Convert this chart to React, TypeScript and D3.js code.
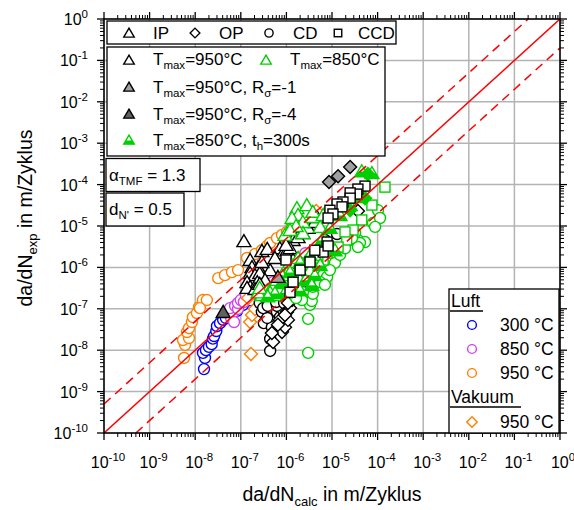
import React from "react";
import * as d3 from "d3";

type P = [number, number];

// ---------- data (da/dN_calc, da/dN_exp) in m/Zyklus ----------
const luft300Circles: P[] = [
  [1.56e-8, 3.5e-9], [1.64e-8, 6.5e-9], [1.48e-8, 8.6e-9], [1.72e-8, 1.0e-8], [2.0e-8, 1.2e-8],
  [2.3e-8, 1.4e-8], [2.45e-8, 1.9e-8], [2.6e-8, 2.2e-8], [2.9e-8, 2.9e-8], [3.0e-8, 3.8e-8],
  [3.5e-8, 4.5e-8], [4.1e-8, 5.4e-8], [4.7e-8, 6.0e-8], [6.1e-8, 7.5e-8], [8.3e-8, 8.9e-8],
  [1.12e-7, 1.24e-7], [1.6e-7, 1.6e-7], [2.6e-7, 2.3e-7],
];
const luft850Circles: P[] = [
  [6.1e-8, 6.0e-8], [6.7e-8, 7.9e-8], [7.1e-8, 4.8e-8], [5.8e-8, 1.04e-7], [7.5e-8, 1.17e-7],
  [8.7e-8, 9.9e-8], [8.7e-8, 1.38e-7], [1.0e-7, 1.63e-7], [1.17e-7, 1.46e-7], [1.3e-7, 2.15e-7],
  [1.67e-7, 2.4e-7], [5.1e-7, 4.4e-7], [2.6e-6, 2.2e-6],
];
const luft950Circles: P[] = [
  [5.7e-9, 6.5e-9], [6.0e-9, 1.34e-8], [5.4e-9, 1.76e-8], [7.3e-9, 1.97e-8], [6.6e-9, 2.75e-8],
  [7.3e-9, 3.4e-8], [8.5e-9, 4.8e-8], [8.9e-9, 6.3e-8], [1.09e-8, 7.9e-8], [1.21e-8, 1.1e-7],
  [1.48e-8, 1.63e-7], [1.8e-8, 1.63e-7], [1.27e-8, 1.04e-7], [3.2e-8, 5.5e-7], [4.5e-8, 6.5e-7],
  [6.4e-8, 7.7e-7], [8.7e-8, 8.6e-7], [1.37e-7, 1.69e-6], [2.05e-7, 2.1e-6], [2.9e-7, 2.6e-6],
  [3.8e-7, 3.3e-6], [4.4e-7, 3.9e-6], [6.2e-7, 5.1e-6], [8.0e-7, 6.1e-6], [1.03e-6, 7.2e-6],
  [1.33e-6, 1.12e-5], [1.7e-6, 1.65e-5],
];
const vakuum950Diamonds: P[] = [
  [1.67e-7, 8.1e-9], [1.6e-7, 4.8e-8], [1.76e-7, 7.1e-8], [2.05e-7, 9.9e-8], [1.44e-7, 1.82e-7],
  [2.3e-6, 1.06e-5], [4.5e-6, 2.3e-5], [1.2e-6, 7.2e-6],
];
const cdBlackCircles: P[] = [
  [4.4e-7, 9.6e-9], [4.4e-7, 1.87e-8], [3.2e-7, 4.5e-8], [2.9e-7, 8.4e-8], [2.6e-7, 1.38e-7],
  [3.8e-7, 1.38e-7], [4.8e-7, 1.04e-7], [6.2e-7, 8.4e-8], [6.5e-7, 1.93e-7], [8.0e-7, 2.4e-7],
  [5.6e-7, 4.8e-8], [4.8e-7, 3.6e-8], [3.8e-7, 6.0e-8], [7.2e-7, 6.3e-8], [8.4e-7, 9.3e-8],
  [3.1e-7, 1.04e-7], [3.9e-7, 1.17e-7], [6.2e-7, 1.17e-7], [7.2e-7, 1.82e-7], [5.9e-7, 1.46e-7],
  [8.9e-7, 1.38e-7], [1.2e-6, 1.63e-7], [1.63e-6, 2.0e-7], [3.3e-6, 1.28e-6], [7.0e-6, 4.6e-6],
  [1.29e-5, 6.4e-6], [1.2e-6, 7.7e-7], [2.0e-6, 3.8e-7],
];
const opBlackDiamonds: P[] = [
  [8.0e-7, 2.75e-8], [9.3e-7, 3.6e-8], [1.08e-6, 5.4e-8], [1.03e-6, 8.4e-8], [1.2e-6, 1.04e-7],
  [1.33e-6, 1.63e-7], [1.08e-6, 1.38e-7], [5.1e-7, 1.58e-8], [4.8e-7, 2.6e-8], [7.2e-7, 5.4e-8],
  [9.3e-7, 7.1e-8], [3.7e-5, 2.3e-5], [2.0e-6, 2.8e-7], [1.63e-6, 5.0e-7], [6.5e-7, 4.1e-8],
];
const ccdBlackSquares: P[] = [
  [5.3e-5, 9.2e-5], [3.7e-5, 7.8e-5], [3.5e-5, 5.9e-5], [2.5e-5, 6.3e-5], [2.5e-5, 4.7e-5],
  [1.74e-5, 3.8e-5], [1.29e-5, 3.4e-5], [1.66e-5, 2.9e-5], [9.0e-6, 2.4e-5], [1.05e-5, 1.95e-5],
  [8.2e-6, 1.56e-5], [7.8e-6, 4.1e-6], [6.4e-6, 2.35e-6], [8.2e-6, 3.3e-6], [1.4e-6, 4.4e-7],
  [1.2e-6, 2.5e-7], [9.8e-7, 1.51e-6], [2.0e-6, 8.6e-7], [3.3e-6, 1.35e-6], [4.2e-6, 2.6e-6],
];
const ipBlackTriangles: P[] = [
  [1.17e-7, 4.3e-6], [2.9e-7, 2.5e-6], [3.8e-7, 2.8e-6], [1.6e-7, 1.51e-6], [1.76e-7, 1.02e-6],
  [2.4e-7, 1.02e-6], [4.4e-7, 8.6e-7], [1.6e-7, 7.3e-7], [2.05e-7, 6.5e-7], [2.6e-7, 7.3e-7],
  [1.37e-7, 4.4e-7], [1.6e-7, 3.4e-7], [2.3e-7, 4.4e-7], [1.37e-7, 3.2e-7], [2.05e-7, 3.0e-7],
  [7.2e-7, 2.9e-6], [8.4e-7, 2.2e-6], [1.03e-6, 2.6e-6], [1.4e-6, 4.6e-6], [1.8e-6, 5.4e-6],
  [2.3e-6, 6.8e-6], [3.0e-6, 9.0e-6], [1.2e-6, 2.9e-6], [1.4e-6, 1.51e-6], [3.4e-7, 5.0e-7],
  [2.6e-7, 4.0e-7], [4.2e-6, 1.25e-5], [4.7e-6, 1.65e-5], [2.9e-7, 1.35e-6], [5.6e-7, 1.69e-6],
  [9.8e-7, 3.5e-6],
];
const rsm1GrayTriangles: P[] = [[6.5e-7, 5.9e-7]];
const rsm4DarkTriangles: P[] = [[4.1e-8, 8.4e-8]];
const rsm1GrayDiamonds: P[] = [[2.5e-5, 2.66e-4], [1.36e-5, 1.6e-4], [8.6e-6, 1.16e-4]];
const t850GreenCircles: P[] = [
  [3.0e-6, 8.6e-9], [3.0e-6, 5.7e-8], [3.3e-6, 1.24e-7], [3.6e-6, 1.54e-7], [3.6e-6, 2.8e-7],
  [3.8e-6, 2.3e-7], [2.3e-6, 2.5e-7], [2.2e-6, 1.63e-7], [6.4e-6, 6.5e-7], [1.16e-5, 1.28e-6],
  [7.8e-6, 5.9e-7], [2.5e-5, 4.6e-6], [3.7e-5, 4.6e-6], [5.3e-5, 4.1e-6], [3.2e-5, 6.8e-6],
  [7.9e-5, 1.18e-5], [1.02e-4, 2.4e-5], [1.13e-4, 1.56e-5], [8.8e-5, 9.5e-6], [4.1e-5, 3.9e-6],
  [3.7e-5, 3.1e-6], [2.75e-5, 5.1e-6], [3.8e-6, 3.4e-7], [1.5e-5, 2.0e-6], [1.93e-5, 2.9e-6],
  [5.5e-6, 4.4e-7], [9.0e-6, 8.6e-7], [1.63e-6, 1.82e-7], [7.0e-6, 3.8e-7],
];
const t850GreenSquares: P[] = [
  [1.45e-4, 8.7e-5], [7.5e-5, 3.2e-5], [4.5e-5, 1.4e-5], [2.9e-5, 8.0e-6], [2.1e-5, 4.6e-6],
  [1.36e-5, 3.1e-6], [7.8e-6, 2.2e-6], [3.6e-6, 1.14e-6], [3.3e-6, 8.6e-7], [6.4e-6, 1.51e-6],
  [2.0e-6, 6.5e-7], [1.55e-6, 4.4e-7], [4.9e-6, 1.69e-6], [1.93e-5, 7.2e-6], [2.6e-6, 7.7e-7],
];
const t850GreenTriangles: P[] = [
  [1.7e-6, 2.7e-5], [2.8e-6, 3.2e-5], [1.4e-6, 1.25e-5], [1.8e-6, 1.85e-5], [2.3e-6, 1.25e-5],
  [3.8e-6, 1.65e-5], [5.5e-6, 9.5e-6], [2.3e-6, 6.8e-6], [1.33e-6, 1.56e-5], [3.8e-6, 2.2e-5],
  [6.4e-6, 1.85e-5], [1.63e-6, 1.0e-5], [9.3e-7, 6.1e-6], [1.2e-6, 8.0e-6], [3.8e-7, 2.8e-7],
  [5.1e-7, 3.8e-7], [6.2e-7, 5.0e-7], [1.03e-6, 7.3e-7], [2.9e-7, 2.15e-7], [4.4e-7, 2.5e-7],
  [7.2e-7, 2.8e-7], [9.3e-7, 4.2e-7], [1.55e-6, 6.5e-7], [2.0e-6, 9.7e-7], [2.6e-6, 1.35e-6],
  [3.3e-6, 8.6e-7], [8.0e-7, 6.5e-7], [1.2e-6, 1.35e-6], [1.8e-6, 1.69e-6], [5.5e-6, 3.5e-6],
  [5.6e-7, 2.15e-7], [2.4e-7, 2.5e-7], [2.0e-6, 5.0e-7], [4.2e-6, 2.0e-6], [7.0e-6, 4.6e-6],
  [2.6e-7, 3.2e-7],
];
const t850th300Triangles: P[] = [
  [4.5e-5, 2.1e-4], [7.5e-5, 1.9e-4], [3.7e-5, 5.0e-5], [2.5e-5, 3.2e-5], [1.5e-5, 1.85e-5],
  [9.0e-6, 9.0e-6], [6.0e-6, 4.6e-6], [3.3e-6, 2.0e-6], [2.0e-6, 1.35e-6], [1.2e-6, 7.7e-7],
  [8.0e-7, 4.4e-7], [1.55e-6, 3.8e-7], [2.6e-6, 5.0e-7], [4.2e-6, 6.5e-7], [2.0e-6, 2.8e-7],
  [9.3e-7, 2.5e-7], [5.6e-7, 2.4e-7], [3.9e-7, 2.0e-7], [5.5e-6, 1.14e-6], [1.16e-5, 2.6e-6],
  [3.6e-6, 3.8e-7],
];
const t850th300Diamonds: P[] = [[6.1e-5, 1.8e-4], [5.3e-5, 4.7e-5], [2.5e-5, 2.4e-5]];

const decadeExponents = [-10, -9, -8, -7, -6, -5, -4, -3, -2, -1, 0];
const minorMultipliers = [2, 3, 4, 5, 6, 7, 8, 9];
const bandFactor = 5;

// ---------- layout ----------
const W = 574, H = 510;
const X0 = 104, X1 = 560, Y0 = 433, Y1 = 19;
const FONT = "'Liberation Sans', Arial, Helvetica, sans-serif";

const GREEN = "#00d000";
const ORANGE = "#ff8000";
const BLUE = "#0000ff";
const VIOLET = "#cc44ee";
const RED = "#ff0000";

type Shape = "circle" | "triangle" | "square" | "diamond" | "triHalf";

function Marker({ shape, cx, cy, stroke, fill = "#fff", s = 1 }: { shape: Shape; cx: number; cy: number; stroke: string; fill?: string; s?: number }) {
  const sw = 1.4;
  if (shape === "circle") return <circle cx={cx} cy={cy} r={5.5 * s} fill={fill} stroke={stroke} strokeWidth={sw} />;
  if (shape === "square") {
    const h = 5 * s;
    return <rect x={cx - h} y={cy - h} width={2 * h} height={2 * h} fill={fill} stroke={stroke} strokeWidth={sw} />;
  }
  if (shape === "diamond") {
    const h = 6.5 * s;
    return <polygon points={`${cx},${cy - h} ${cx + h},${cy} ${cx},${cy + h} ${cx - h},${cy}`} fill={fill} stroke={stroke} strokeWidth={sw} />;
  }
  const hw = 7 * s, top = -6.5 * s, bot = 5.5 * s;
  const pts = `${cx},${cy + top} ${cx + hw},${cy + bot} ${cx - hw},${cy + bot}`;
  if (shape === "triHalf") {
    const yb = 0.5 * s;
    const w = hw * (yb - top) / (bot - top);
    return (
      <g>
        <polygon points={pts} fill="#fff" stroke="none" />
        <polygon points={`${cx - w},${cy + yb} ${cx + w},${cy + yb} ${cx + hw},${cy + bot} ${cx - hw},${cy + bot}`} fill={stroke} />
        <polygon points={pts} fill="none" stroke={stroke} strokeWidth={sw} />
      </g>
    );
  }
  return <polygon points={pts} fill={fill} stroke={stroke} strokeWidth={sw} />;
}

// text with subscripts: parts alternate normal / subscript
function RichText({ x, y, parts, fs = 17, subFs = 11.5 }: { x: number; y: number; parts: string[]; fs?: number; subFs?: number }) {
  return (
    <text x={x} y={y} fontSize={fs}>
      {parts.map((p, i) => {
        const isSub = i % 2 === 1;
        const prevSub = i > 0 && (i - 1) % 2 === 1;
        const dy = isSub ? 4 : prevSub ? -4 : 0;
        return (
          <tspan key={i} dy={dy} fontSize={isSub ? subFs : fs}>{p}</tspan>
        );
      })}
    </text>
  );
}

export default function App() {
  const x = d3.scaleLog().domain([1e-10, 1]).range([X0, X1]);
  const y = d3.scaleLog().domain([1e-10, 1]).range([Y0, Y1]);

  const majors = decadeExponents.map((e) => Math.pow(10, e));
  const minors: number[] = [];
  decadeExponents.slice(0, -1).forEach((e) => minorMultipliers.forEach((m) => minors.push(m * Math.pow(10, e))));

  const series: { data: P[]; shape: Shape; stroke: string; fill?: string }[] = [
    { data: luft950Circles, shape: "circle", stroke: ORANGE },
    { data: luft300Circles, shape: "circle", stroke: BLUE },
    { data: luft850Circles, shape: "circle", stroke: VIOLET },
    { data: vakuum950Diamonds, shape: "diamond", stroke: ORANGE },
    { data: cdBlackCircles, shape: "circle", stroke: "#000" },
    { data: opBlackDiamonds, shape: "diamond", stroke: "#000" },
    { data: ipBlackTriangles, shape: "triangle", stroke: "#000" },
    { data: t850GreenCircles, shape: "circle", stroke: GREEN },
    { data: t850GreenSquares, shape: "square", stroke: GREEN },
    { data: t850GreenTriangles, shape: "triangle", stroke: GREEN },
    { data: t850th300Triangles, shape: "triHalf", stroke: GREEN },
    { data: t850th300Diamonds, shape: "diamond", stroke: GREEN, fill: GREEN },
    { data: ccdBlackSquares, shape: "square", stroke: "#000" },
    { data: rsm1GrayTriangles, shape: "triangle", stroke: "#000", fill: "#a0a0a0" },
    { data: rsm4DarkTriangles, shape: "triangle", stroke: "#000", fill: "#606060" },
    { data: rsm1GrayDiamonds, shape: "diamond", stroke: "#000", fill: "#a0a0a0" },
  ];

  const lineGen = d3.line<P>().x((d) => x(d[0])).y((d) => y(d[1]));
  const diag: P[] = [[1e-10, 1e-10], [1, 1]];
  const upper: P[] = [[1e-10, bandFactor * 1e-10], [1 / bandFactor, 1]];
  const lower: P[] = [[bandFactor * 1e-10, 1e-10], [1, 1 / bandFactor]];

  return (
    <svg width={W} height={H} style={{ position: "absolute", left: 0, top: 0, background: "#fff" }} fontFamily={FONT}>
      <defs>
        <clipPath id="plotClip">
          <rect x={X0} y={Y1} width={X1 - X0} height={Y0 - Y1} />
        </clipPath>
      </defs>
      <rect x={0} y={0} width={W} height={H} fill="#fff" />
      {/* grid */}
      {majors.map((v, i) => (
        <g key={"g" + i}>
          <line x1={x(v)} x2={x(v)} y1={Y1} y2={Y0} stroke="#b4b4b4" strokeWidth={1.5} />
          <line x1={X0} x2={X1} y1={y(v)} y2={y(v)} stroke="#b4b4b4" strokeWidth={1.5} />
        </g>
      ))}
      {/* markers */}
      <g clipPath="url(#plotClip)">
        {series.map((s, si) =>
          s.data.map((d, i) => (
            <Marker key={si + "-" + i} shape={s.shape} cx={x(d[0])} cy={y(d[1])} stroke={s.stroke} fill={s.fill} />
          ))
        )}
        <path d={lineGen(diag) || ""} stroke={RED} strokeWidth={1.5} fill="none" />
        <path d={lineGen(upper) || ""} stroke={RED} strokeWidth={1.5} fill="none" strokeDasharray="9,6" />
        <path d={lineGen(lower) || ""} stroke={RED} strokeWidth={1.5} fill="none" strokeDasharray="9,6" />
      </g>
      {/* frame and ticks */}
      <rect x={X0} y={Y1} width={X1 - X0} height={Y0 - Y1} fill="none" stroke="#000" strokeWidth={1.5} />
      {majors.map((v, i) => (
        <g key={"mt" + i} stroke="#000" strokeWidth={1.3}>
          <line x1={x(v)} x2={x(v)} y1={Y0} y2={Y0 + 7} />
          <line x1={x(v)} x2={x(v)} y1={Y1} y2={Y1 - 7} />
          <line x1={X0} x2={X0 - 7} y1={y(v)} y2={y(v)} />
          <line x1={X1} x2={X1 + 7} y1={y(v)} y2={y(v)} />
        </g>
      ))}
      {minors.map((v, i) => (
        <g key={"nt" + i} stroke="#000" strokeWidth={1}>
          <line x1={x(v)} x2={x(v)} y1={Y0} y2={Y0 + 4} />
          <line x1={x(v)} x2={x(v)} y1={Y1} y2={Y1 - 4} />
          <line x1={X0} x2={X0 - 4} y1={y(v)} y2={y(v)} />
          <line x1={X1} x2={X1 + 4} y1={y(v)} y2={y(v)} />
        </g>
      ))}
      {/* tick labels */}
      {decadeExponents.map((e, i) => (
        <text key={"xl" + i} x={x(Math.pow(10, e)) + (e === 0 ? 3 : 4)} y={468} textAnchor="middle" fontSize={16}>
          <tspan>10</tspan><tspan dy={-7} fontSize={11.5}>{String(e)}</tspan>
        </text>
      ))}
      {decadeExponents.map((e, i) => (
        <text key={"yl" + i} x={88} y={y(Math.pow(10, e)) + 6} textAnchor="end" fontSize={16}>
          <tspan>10</tspan><tspan dy={-7} fontSize={11.5}>{String(e)}</tspan>
        </text>
      ))}
      {/* axis titles */}
      <text x={332} y={501} textAnchor="middle" fontSize={19.5}>
        <tspan>da/dN</tspan><tspan dy={5} fontSize={13}>calc</tspan><tspan dy={-5}> in m/Zyklus</tspan>
      </text>
      <text transform="translate(32,218) rotate(-90)" textAnchor="middle" fontSize={19.5}>
        <tspan>da/dN</tspan><tspan dy={5} fontSize={13}>exp</tspan><tspan dy={-5}> in m/Zyklus</tspan>
      </text>

      {/* legend 1: shapes */}
      <rect x={107} y={21} width={289} height={23} fill="#fff" stroke="#000" strokeWidth={1.3} />
      <Marker shape="triangle" cx={129} cy={33} stroke="#000" s={0.75} />
      <text x={153} y={39} fontSize={17}>IP</text>
      <Marker shape="diamond" cx={195} cy={33} stroke="#000" s={0.75} />
      <text x={219} y={39} fontSize={17}>OP</text>
      <Marker shape="circle" cx={269} cy={33} stroke="#000" s={0.75} />
      <text x={293} y={39} fontSize={17}>CD</text>
      <Marker shape="square" cx={338} cy={33} stroke="#000" s={0.75} />
      <text x={358} y={39} fontSize={17}>CCD</text>

      {/* legend 2: conditions */}
      <rect x={107} y={47} width={278} height={109} fill="#fff" stroke="#000" strokeWidth={1.3} />
      <Marker shape="triangle" cx={129} cy={60} stroke="#000" s={0.75} />
      <RichText x={153} y={65} parts={["T", "max", "=950°C"]} />
      <Marker shape="triangle" cx={266} cy={60} stroke={GREEN} s={0.75} />
      <RichText x={290} y={65} parts={["T", "max", "=850°C"]} />
      <Marker shape="triangle" cx={129} cy={87} stroke="#000" fill="#a0a0a0" s={0.75} />
      <RichText x={153} y={93} parts={["T", "max", "=950°C, R", "σ", "=-1"]} />
      <Marker shape="triangle" cx={129} cy={114} stroke="#000" fill="#606060" s={0.75} />
      <RichText x={153} y={120} parts={["T", "max", "=950°C, R", "σ", "=-4"]} />
      <Marker shape="triHalf" cx={129} cy={140} stroke={GREEN} s={0.75} />
      <RichText x={153} y={146} parts={["T", "max", "=850°C, t", "h", "=300s"]} />

      {/* parameter boxes */}
      <rect x={106} y={158.5} width={94} height={33} fill="#fff" stroke="#000" strokeWidth={1.3} />
      <RichText x={109} y={181} parts={["α", "TMF", " = 1.3"]} />
      <rect x={106} y={193} width={78} height={33} fill="#fff" stroke="#000" strokeWidth={1.3} />
      <RichText x={109} y={215} parts={["d", "N'", " = 0.5"]} />

      {/* legend 3: environment */}
      <rect x={449} y={289} width={110} height={144} fill="#fff" stroke="#000" strokeWidth={1.3} />
      <text x={451} y={307} fontSize={17.5}>Luft</text>
      <line x1={450} x2={483} y1={311} y2={311} stroke="#000" strokeWidth={1.5} />
      <Marker shape="circle" cx={472} cy={325} stroke={BLUE} s={0.8} />
      <text x={500} y={331} fontSize={17.5}>300 °C</text>
      <Marker shape="circle" cx={472} cy={349} stroke={VIOLET} s={0.8} />
      <text x={500} y={355} fontSize={17.5}>850 °C</text>
      <Marker shape="circle" cx={472} cy={373} stroke={ORANGE} s={0.8} />
      <text x={500} y={379} fontSize={17.5}>950 °C</text>
      <text x={451} y={403} fontSize={17.5}>Vakuum</text>
      <line x1={450} x2={521} y1={407} y2={407} stroke="#000" strokeWidth={1.5} />
      <Marker shape="diamond" cx={472} cy={422} stroke={ORANGE} s={0.8} />
      <text x={500} y={428} fontSize={17.5}>950 °C</text>
    </svg>
  );
}
